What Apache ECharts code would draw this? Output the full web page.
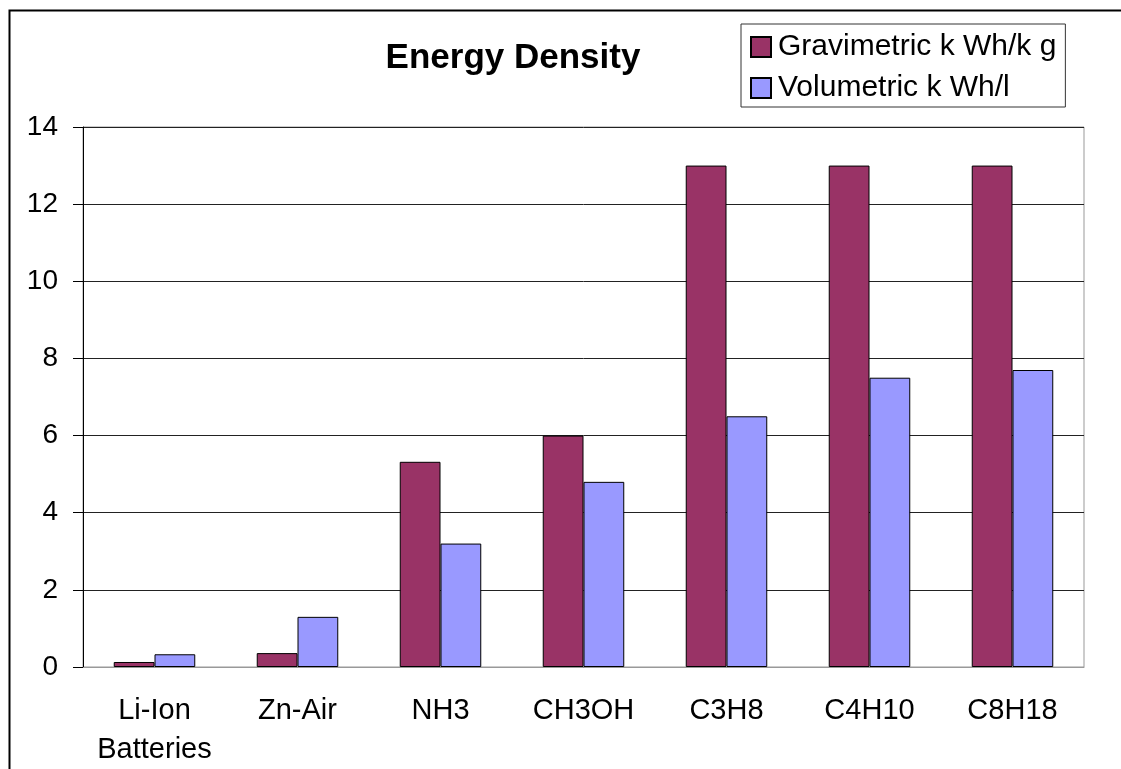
<!DOCTYPE html>
<html>
<head>
<meta charset="utf-8">
<script src="https://cdn.jsdelivr.net/npm/echarts@6/dist/echarts.min.js"></script>
<style>
  html, body { margin: 0; padding: 0; background: #fff; }
  #chart { width: 1121px; height: 769px; }
</style>
</head>
<body>
<div id="chart"></div>
<script>
// Energy density of storage media and fuels
const categories = ['Li-Ion\nBatteries', 'Zn-Air', 'NH3', 'CH3OH', 'C3H8', 'C4H10', 'C8H18'];
const gravimetric = [0.13, 0.36, 5.32, 6.0, 13, 13, 13];   // kWh/kg
const volumetric = [0.33, 1.3, 3.2, 4.8, 6.5, 7.5, 7.7];   // kWh/l
const yTicks = { min: 0, max: 14, interval: 2 };

const font = 'Arial, "Liberation Sans", sans-serif';

const chart = echarts.init(document.getElementById('chart'), null, { renderer: 'canvas' });

chart.setOption({
  backgroundColor: '#ffffff',
  animation: false,
  textStyle: { fontFamily: font, color: '#000' },
  title: {
    text: 'Energy Density',
    left: 508,
    top: 36,
    textAlign: 'center',
    textStyle: { fontFamily: font, fontSize: 35, fontWeight: 'bold', color: '#000' }
  },
  legend: {
    orient: 'vertical',
    left: 741,
    top: 24,
    padding: [8, 9, 4, 9],
    borderColor: '#333',
    borderWidth: 1,
    itemWidth: 20,
    itemHeight: 20,
    itemGap: 11,
    icon: 'rect',
    textStyle: { fontFamily: font, fontSize: 30, lineHeight: 30, color: '#000', padding: [0, 0, 0, 2] },
    data: ['Gravimetric k Wh/k g', 'Volumetric k Wh/l']
  },
  grid: {
    left: 83,
    right: 37,
    top: 127,
    bottom: 102,
    show: true,
    borderColor: '#999',
    borderWidth: 1,
    containLabel: false
  },
  xAxis: {
    type: 'category',
    data: categories,
    axisLine: { show: true, lineStyle: { color: '#999', width: 1 } },
    axisTick: { show: false },
    axisLabel: {
      fontFamily: font,
      fontSize: 29,
      color: '#000',
      margin: 24,
      lineHeight: 39,
      interval: 0
    }
  },
  yAxis: {
    type: 'value',
    min: yTicks.min,
    max: yTicks.max,
    interval: yTicks.interval,
    axisLine: { show: true, lineStyle: { color: '#000', width: 1 } },
    axisTick: { show: true, length: 10, lineStyle: { color: '#000' } },
    axisLabel: { fontFamily: font, fontSize: 28, color: '#000', margin: 25 },
    splitLine: { show: true, lineStyle: { color: '#222', width: 1 } }
  },
  series: [
    {
      name: 'Gravimetric k Wh/k g',
      type: 'bar',
      data: gravimetric,
      barGap: '0%',
      barCategoryGap: '43%',
      itemStyle: { color: '#993366', borderColor: '#000', borderWidth: 1 }
    },
    {
      name: 'Volumetric k Wh/l',
      type: 'bar',
      data: volumetric,
      barGap: '0%',
      barCategoryGap: '43%',
      itemStyle: { color: '#9999FF', borderColor: '#000', borderWidth: 1 }
    }
  ],
  graphic: [
    {
      type: 'rect',
      left: 7,
      top: 8,
      shape: { width: 1300, height: 1000 },
      style: { fill: 'none', stroke: '#000', lineWidth: 2 },
      silent: true
    }
  ]
});
</script>
</body>
</html>
